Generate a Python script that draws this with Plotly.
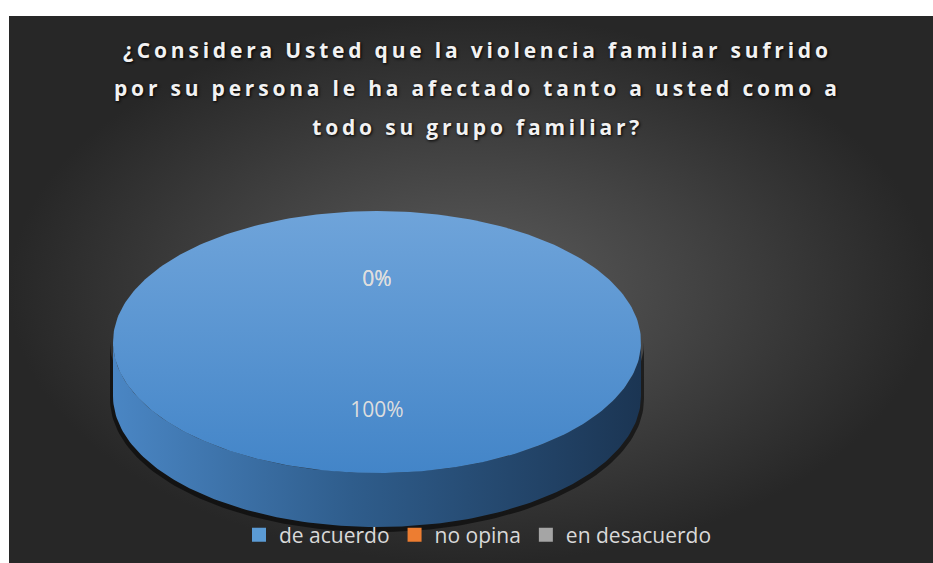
import numpy as np
import plotly.graph_objects as go

# survey answers
categories = ["de acuerdo", "no opina", "en desacuerdo"]
values = [100, 0, 0]
colors = ["#5b9bd5", "#ed7d31", "#a5a5a5"]
title_lines = [
    "¿Considera Usted que la violencia familiar sufrido",
    "por su persona le ha afectado tanto a usted como a",
    "todo su grupo familiar?",
]

W, H = 933, 563
# pie geometry (pixel-like units, y up)
cx, cy = 377, H - 342
rx, ry = 264, 131
depth = 54

fig = go.Figure()

# chart area background with radial gradient
fig.add_trace(go.Scatter(
    x=[9, W, W, 9, 9], y=[0, 0, H - 16, H - 16, 0],
    mode="lines", line=dict(width=0), fill="toself",
    fillgradient=dict(type="radial",
                      colorscale=[[0, "#5c5c5c"], [0.5, "#424242"], [1, "#272727"]]),
    hoverinfo="skip", showlegend=False,
))

# shadow below the pie side
t = np.linspace(np.pi, 2 * np.pi, 120)
fig.add_trace(go.Scatter(
    x=np.concatenate([cx + (rx + 3) * np.cos(t), (cx + (rx + 3) * np.cos(t))[::-1]]),
    y=np.concatenate([cy + ry * np.sin(t), (cy - depth - 3 + (ry + 2) * np.sin(t))[::-1]]),
    mode="lines", line=dict(width=0), fill="toself", fillcolor="rgba(0,0,0,0.55)",
    hoverinfo="skip", showlegend=False,
))

total = sum(values)
cum = np.concatenate([[0], np.cumsum(values)]) / total
side_scales = {
    0: [[0, "#4a86c4"], [0.45, "#2f5d8c"], [1, "#1b3553"]],
    1: [[0, "#c4651f"], [1, "#6e3611"]],
    2: [[0, "#8a8a8a"], [1, "#4a4a4a"]],
}
top_scales = {
    0: [[0, "#4385c8"], [1, "#6fa4da"]],
    1: [[0, "#e0702a"], [1, "#f29458"]],
    2: [[0, "#9a9a9a"], [1, "#bbbbbb"]],
}
lab_x, lab_y, lab_t = [], [], []
for i, v in enumerate(values):
    # clockwise from 12 o'clock
    p1 = np.pi / 2 - 2 * np.pi * cum[i]
    p2 = np.pi / 2 - 2 * np.pi * cum[i + 1]
    if v > 0:
        # visible front side
        lo, hi = max(p2, -np.pi), min(p1, 0)
        if hi > lo:
            s = np.linspace(lo, hi, 150)
            sx = cx + rx * np.cos(s)
            sy = cy + ry * np.sin(s)
            fig.add_trace(go.Scatter(
                x=np.concatenate([sx, sx[::-1], sx[:1]]),
                y=np.concatenate([sy, (sy - depth)[::-1], sy[:1]]),
                mode="lines", line=dict(width=0), fill="toself",
                fillgradient=dict(type="horizontal", colorscale=side_scales[i]),
                hoverinfo="skip", showlegend=False,
            ))
        # top face wedge
        s = np.linspace(p1, p2, 300)
        px = cx + rx * np.cos(s)
        py = cy + ry * np.sin(s)
        if v < total:
            px = np.concatenate([[cx], px, [cx]])
            py = np.concatenate([[cy], py, [cy]])
        fig.add_trace(go.Scatter(
            x=px, y=py, mode="lines", line=dict(width=0), fill="toself",
            fillgradient=dict(type="vertical", colorscale=top_scales[i]),
            hoverinfo="skip", showlegend=False,
        ))
    mid = (p1 + p2) / 2
    lab_x.append(cx + 0.5 * rx * np.cos(mid))
    lab_y.append(cy - 4 + 0.5 * ry * np.sin(mid))
    lab_t.append(f"{v / total:.0%}")

# data labels
fig.add_trace(go.Scatter(
    x=lab_x, y=lab_y, text=lab_t, mode="text",
    textfont=dict(family="Open Sans", size=21, color="#dedede"),
    hoverinfo="skip", showlegend=False,
))

# legend entries
for name, c in zip(categories, colors):
    fig.add_trace(go.Scatter(
        x=[None], y=[None], mode="markers", name=name,
        marker=dict(symbol="square", size=14, color=c),
    ))

for k, line in enumerate(title_lines):
    fig.add_annotation(
        text=f"<b>{line}</b>", xref="paper", yref="paper",
        x=477 / W, y=1 - (50 + 38.5 * k) / H, xanchor="center", yanchor="middle",
        showarrow=False,
        font=dict(family="Open Sans", size=21, color="#f2f2f2", shadow="1px 1px 3px #000"),
    )

fig.update_layout(
    width=W, height=H,
    margin=dict(l=0, r=0, t=0, b=0),
    paper_bgcolor="white", plot_bgcolor="rgba(0,0,0,0)",
    xaxis=dict(range=[0, W], visible=False, fixedrange=True),
    yaxis=dict(range=[0, H], visible=False, fixedrange=True),
    showlegend=True,
    legend=dict(
        orientation="h", x=478 / W, y=1 - 535 / H, xanchor="center", yanchor="middle",
        font=dict(family="Open Sans", size=21, color="#d9d9d9"),
        bgcolor="rgba(0,0,0,0)", itemwidth=30,
    ),
)

post = ("document.body.style.margin='0';"
        "var s=document.createElement('style');"
        "s.textContent='.annotation-text{letter-spacing:3.8px}';"
        "document.head.appendChild(s);")
fig.write_html("out.html", post_script=post, config={"displayModeBar": False})
